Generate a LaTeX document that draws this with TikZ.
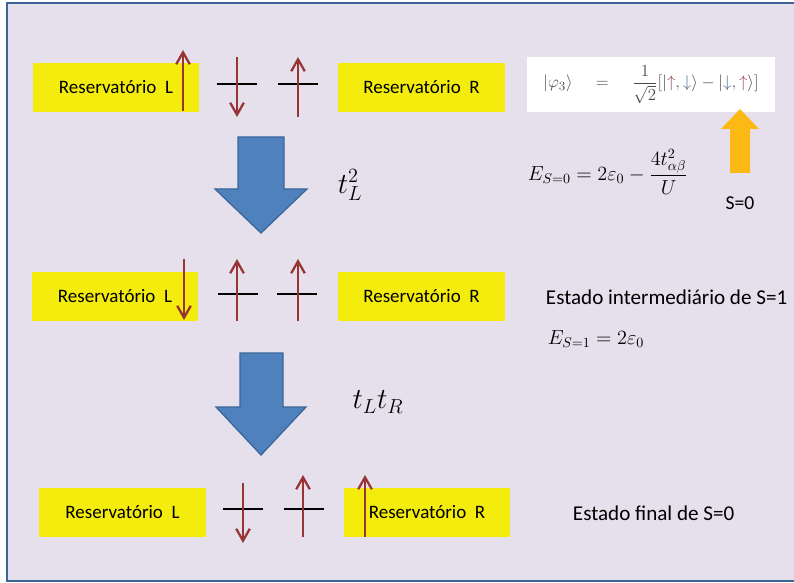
\documentclass[tikz,border=0pt]{standalone}
\usepackage{fontspec}
\setmainfont{Carlito}
\usetikzlibrary{arrows.meta}

\definecolor{panelbg}{HTML}{E5E0EC}
\definecolor{paneledge}{HTML}{3B6595}
\definecolor{resyellow}{HTML}{F3EC0C}
\definecolor{spinred}{HTML}{983434}
\definecolor{hopblue}{HTML}{4F81BD}
\definecolor{hopedge}{HTML}{3A669A}
\definecolor{spinorange}{HTML}{FDB913}
\definecolor{ketgray}{HTML}{4A4A4A}
\definecolor{ketup}{HTML}{A04A5A}
\definecolor{ketdown}{HTML}{4A6A9A}

\begin{document}
\begin{tikzpicture}[
  x=0.025cm, y=-0.025cm,
  resbox/.style={fill=resyellow, minimum width=4.15cm, minimum height=1.23cm, inner sep=0pt, font={\fontsize{13.5}{16}\selectfont}},
  level/.style={line width=2pt, draw=black},
  spin/.style={line width=1.6pt, draw=spinred, -{Straight Barb[length=3mm,width=3.4mm]}},
  hop/.style={fill=hopblue, draw=hopedge, line width=0.9pt, line join=miter},
  note/.style={anchor=west, font={\fontsize{15}{18}\selectfont}},
  eqn/.style={font={\fontsize{14}{17}\selectfont}}
]
\useasboundingbox (0,0) rectangle (794,583);
\begin{scope}
\clip (0,0) rectangle (794,583);
\fill[white] (0,0) rectangle (794,583);
\draw[fill=panelbg, draw=paneledge, line width=1.4pt] (7,3) rectangle (830,581);
\end{scope}

% estado inicial
\node[resbox] (resL1) at (116,87.5) {Reservatório\ \ L};
\node[resbox] (resR1) at (421.5,87.5) {Reservatório\ \ R};
\draw[level] (217,84) -- (257,84);
\draw[level] (278,84) -- (318,84);
\draw[spin] (183,111) -- (183,50);
\draw[spin] (237,57) -- (237,117);
\draw[spin] (298,117) -- (298,57);

\node[fill=white, minimum width=6.2cm, minimum height=1.375cm, inner sep=0pt, text=ketgray, font={\fontsize{13.2}{16}\selectfont}] (phi3) at (651,84.5)
  {$|\varphi_3\rangle\quad=\quad\displaystyle\frac{1}{\sqrt{2}}\bigl[|{\color{ketup}\uparrow},{\color{ketdown}\downarrow}\rangle-|{\color{ketdown}\downarrow},{\color{ketup}\uparrow}\rangle\bigr]$};
\path[fill=spinorange] (730,173) -- (730,129) -- (721,129) -- (740,109) -- (759,129) -- (750,129) -- (750,173) -- cycle;
\node[font={\fontsize{14}{17}\selectfont}] (szero) at (740,203) {S=0};
\node[eqn] (eszero) at (608,172) {$E_{S=0}=2\varepsilon_0-\displaystyle\frac{4t_{\alpha\beta}^2}{U}$};

% primeiro salto
\path[hop] (238,137) -- (284,137) -- (284,189) -- (307,189) -- (261,233) -- (215,189) -- (238,189) -- cycle;
\node[font={\fontsize{20}{24}\selectfont}] (hopL) at (350,185) {$t_L^2$};

% estado intermediario
\node[resbox] (resL2) at (115,296.5) {Reservatório\ \ L};
\node[resbox] (resR2) at (421.5,296.5) {Reservatório\ \ R};
\draw[level] (218,294) -- (258,294);
\draw[level] (277,294) -- (317,294);
\draw[spin] (184,259) -- (184,320);
\draw[spin] (237,321) -- (237,259);
\draw[spin] (298,321) -- (298,259);
\node[note] (inter) at (541,297) {Estado intermediário de S=1};
\node[eqn] (esone) at (596,339) {$E_{S=1}=2\varepsilon_0$};

% segundo salto
\path[hop] (240,353) -- (283,353) -- (283,407) -- (306,407) -- (261,455) -- (216,407) -- (240,407) -- cycle;
\node[font={\fontsize{20}{24}\selectfont}] (hopLR) at (378,402) {$t_Lt_R$};

% estado final
\node[resbox] (resL3) at (122.5,512.5) {Reservatório\ \ L};
\node[resbox] (resR3) at (427,512.5) {Reservatório\ \ R};
\draw[level] (223,509) -- (263,509);
\draw[level] (284,509) -- (324,509);
\draw[spin] (243,483) -- (243,543);
\draw[spin] (303,537) -- (303,475);
\draw[spin] (365,537) -- (365,475);
\node[note] (final) at (568,513) {Estado final de S=0};
\end{tikzpicture}
\end{document}
